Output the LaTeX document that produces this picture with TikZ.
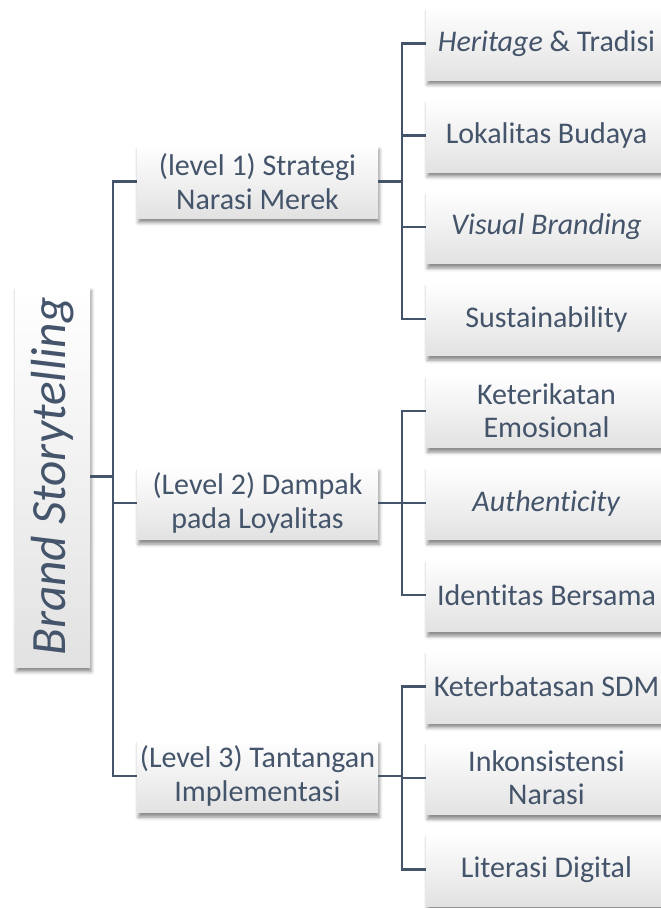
\documentclass[tikz,border=0pt]{standalone}
\usepackage{fontspec}
\setmainfont[Ligatures=NoCommon]{Carlito}
\usetikzlibrary{positioning, calc, shadows, shadows.blur}
\definecolor{bsslate}{HTML}{44546A}
\definecolor{bsgray}{HTML}{E2E2E2}

\begin{document}
\begin{tikzpicture}[
  x=0.75pt, y=-0.75pt,
  box/.style={rectangle, top color=white, bottom color=bsgray, text=bsslate, inner sep=2pt,
    minimum width=180.75pt, minimum height=54.75pt, align=center,
    font=\fontsize{22.5}{25}\selectfont,
    blur shadow={shadow xshift=1pt, shadow yshift=-3.5pt, shadow blur radius=2.5pt, shadow opacity=45}},
  rootbox/.style={box, minimum width=56.25pt, minimum height=285.75pt, font=\fontsize{37}{40}\selectfont\itshape},
  link/.style={draw=bsslate, line width=1.8pt}
]
\useasboundingbox (0,0) rectangle (661,908);

% root and level 1
\node[rootbox] (root) at (52.5,476.5) {\rotatebox{90}{Brand Storytelling}};
\node[box] (strategi) at (257.5,181.5) {(level 1) Strategi\\Narasi Merek};
\node[box] (dampak) at (257.5,503) {(Level 2) Dampak\\pada Loyalitas};
\node[box] (tantangan) at (257.5,776) {(Level 3) Tantangan\\Implementasi};

% level 2
\node[box] (heritage) at (546.5,43.5) {\textit{Heritage} \& Tradisi};
\node[box] (lokalitas) at (546.5,135.5) {Lokalitas Budaya};
\node[box] (visual) at (546.5,227) {\textit{Visual Branding}};
\node[box] (sustain) at (546.5,319) {Sustainability};
\node[box] (emosi) at (546.5,411) {Keterikatan\\Emosional};
\node[box] (autentik) at (546.5,503) {\textit{Authenticity}};
\node[box] (identitas) at (546.5,595) {Identitas Bersama};
\node[box] (sdm) at (546.5,686.5) {Keterbatasan SDM};
\node[box] (inkonsisten) at (546.5,778) {Inkonsistensi\\Narasi};
\node[box] (literasi) at (546.5,869.5) {Literasi Digital};

% connectors
\coordinate (sroot) at (113,476.5);
\coordinate (sstrat) at (402,181.5);
\coordinate (sdamp) at (402,503);
\coordinate (stant) at (402,776);

\draw[link] (root.east) -- (sroot);
\draw[link] (strategi.west) -| (sroot) |- (tantangan.west);
\draw[link] (sroot) |- (dampak.west);

\draw[link] (strategi.east) -- (sstrat);
\draw[link] (heritage.west) -| (sstrat) |- (sustain.west);
\draw[link] (sstrat) |- (lokalitas.west);
\draw[link] (sstrat) |- (visual.west);

\draw[link] (dampak.east) -- (sdamp);
\draw[link] (emosi.west) -| (sdamp) |- (identitas.west);
\draw[link] (sdamp) -- (autentik.west);

\draw[link] (tantangan.east) -- (stant);
\draw[link] (sdm.west) -| (stant) |- (literasi.west);
\draw[link] (stant) |- (inkonsisten.west);
\end{tikzpicture}
\end{document}
